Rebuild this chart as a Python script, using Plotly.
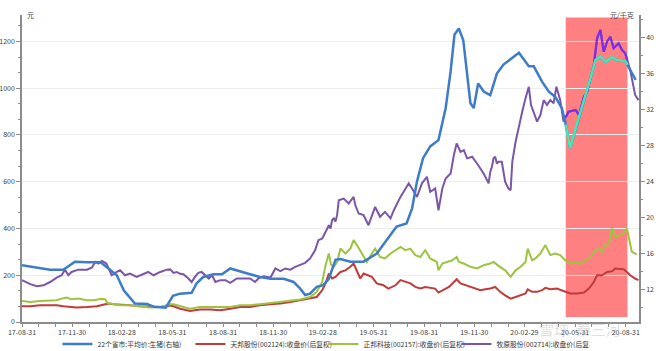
import plotly.graph_objects as go
import pandas as pd
import numpy as np

# ---------------- data ----------------
pig_dates = ["2017-08-31","2017-10-21","2017-11-14","2017-12-05","2017-12-27","2018-01-20","2018-02-04","2018-02-19",
 "2018-03-04","2018-03-24","2018-04-15","2018-04-27","2018-05-19","2018-06-01","2018-06-14","2018-07-05","2018-07-14",
 "2018-07-26","2018-08-14","2018-08-29","2018-09-13","2018-10-01","2018-10-19","2018-11-06","2018-11-25","2018-12-19",
 "2019-01-06","2019-01-18","2019-01-27","2019-02-05","2019-02-17","2019-03-01","2019-03-11","2019-03-23","2019-04-01",
 "2019-04-19","2019-05-13","2019-06-06","2019-06-27","2019-07-12","2019-07-30","2019-08-09","2019-08-18","2019-08-29",
 "2019-09-11","2019-09-26","2019-10-09","2019-10-18","2019-10-25","2019-11-02","2019-11-10","2019-11-17","2019-11-23",
 "2019-11-29","2019-12-07","2019-12-17","2019-12-29","2020-01-10","2020-01-22","2020-02-19","2020-02-28","2020-03-08",
 "2020-03-17","2020-04-01","2020-04-13","2020-04-25","2020-05-07","2020-05-13","2020-05-22","2020-06-01","2020-06-13",
 "2020-06-22","2020-06-28","2020-07-07","2020-07-16","2020-07-25","2020-08-06","2020-08-15","2020-08-30","2020-09-08",
 "2020-09-18"]
pig_values = [14.7,14.2,14.2,15.1,15.05,15.05,14.35,13.6,
 11.9,10.45,10.4,10.1,10.0,11.3,11.55,11.65,12.7,
 13.4,13.7,13.7,14.35,14.0,13.7,13.4,13.2,13.2,
 12.85,12.1,11.4,11.55,12.3,12.5,13.2,15.3,15.4,
 15.1,15.1,16.0,17.7,19.0,19.35,21.0,24.0,26.6,
 27.9,28.6,32.15,36.2,40.3,41.0,39.7,36.2,32.7,
 32.15,34.9,34.0,33.6,36.0,37.0,38.3,37.5,36.8,
 36.8,35.1,34.0,33.4,32.15,30.65,27.7,29.9,32.3,
 34.2,35.5,37.5,37.9,37.3,37.8,37.5,37.4,36.4,
 35.3]

tb_dates = ["2017-08-31","2017-09-15","2017-10-03","2017-10-21","2017-11-02","2017-11-14","2017-11-26","2017-12-08",
 "2017-12-27","2018-01-14","2018-01-29","2018-02-04","2018-02-13","2018-02-25","2018-03-15","2018-04-02","2018-04-20",
 "2018-05-09","2018-05-21","2018-05-27","2018-06-02","2018-06-14","2018-07-02","2018-07-20","2018-08-08","2018-08-26",
 "2018-09-13","2018-10-01","2018-10-19","2018-11-06","2018-11-25","2018-12-13","2018-12-31","2019-01-18","2019-02-05",
 "2019-02-17","2019-02-27","2019-03-05","2019-03-11","2019-03-17","2019-03-23","2019-04-01","2019-04-10","2019-04-19",
 "2019-04-25","2019-05-01","2019-05-07","2019-05-13","2019-05-22","2019-05-28","2019-06-06","2019-06-18","2019-06-27",
 "2019-07-10","2019-07-19","2019-07-28","2019-08-06","2019-08-15","2019-08-24","2019-09-02","2019-09-11","2019-09-20",
 "2019-09-26","2019-10-06","2019-10-15","2019-10-24","2019-10-29","2019-11-05","2019-11-14","2019-11-23","2019-12-02",
 "2019-12-11","2019-12-20","2019-12-29","2020-01-07","2020-01-16","2020-01-25","2020-02-04","2020-02-13","2020-02-22",
 "2020-03-02","2020-03-06","2020-03-14","2020-03-23","2020-04-01","2020-04-07","2020-04-16","2020-04-28","2020-05-07",
 "2020-05-13","2020-05-22","2020-06-04","2020-06-16","2020-06-25","2020-07-04","2020-07-10","2020-07-19","2020-07-28",
 "2020-08-06","2020-08-12","2020-08-21","2020-08-27","2020-09-02","2020-09-08","2020-09-17","2020-09-23"]
tb_values = [67,67,72,72,72,67,64,62,
 64,67,76,79,76,75,72,67,64,
 64,67,70,67,57,47,53,53,50,
 57,64,64,72,76,79,86,93,100,
 107,136,165,207,186,193,214,221,236,
 250,221,186,207,200,193,165,157,143,
 157,179,171,165,150,143,150,146,143,
 126,140,150,171,183,165,157,150,143,
 136,140,143,150,129,114,100,107,114,
 122,140,129,129,136,146,140,143,136,
 129,122,122,126,143,171,200,200,214,
 217,229,229,226,214,200,186,179]

zb_dates = ["2017-08-31","2017-09-15","2017-10-03","2017-10-21","2017-11-02","2017-11-11","2017-11-20","2017-11-29",
 "2017-12-11","2017-12-27","2018-01-08","2018-01-20","2018-01-29","2018-02-02","2018-02-13","2018-02-25","2018-03-15",
 "2018-04-02","2018-04-20","2018-05-09","2018-05-21","2018-05-27","2018-06-02","2018-06-14","2018-07-02","2018-07-20",
 "2018-08-08","2018-08-26","2018-09-13","2018-10-01","2018-10-19","2018-11-06","2018-11-25","2018-12-13","2018-12-31",
 "2019-01-18","2019-02-05","2019-02-17","2019-02-27","2019-03-05","2019-03-11","2019-03-15","2019-03-20","2019-03-26",
 "2019-04-01","2019-04-10","2019-04-19","2019-04-25","2019-05-01","2019-05-10","2019-05-19","2019-05-28","2019-06-03",
 "2019-06-12","2019-06-21","2019-07-01","2019-07-10","2019-07-19","2019-07-28","2019-08-06","2019-08-15","2019-08-24",
 "2019-09-02","2019-09-11","2019-09-23","2019-09-26","2019-10-03","2019-10-12","2019-10-21","2019-10-29","2019-11-02",
 "2019-11-11","2019-11-23","2019-12-05","2019-12-17","2019-12-29","2020-01-04","2020-01-13","2020-01-25","2020-02-04",
 "2020-02-13","2020-02-22","2020-03-02","2020-03-06","2020-03-14","2020-03-20","2020-03-29","2020-04-07","2020-04-16",
 "2020-04-25","2020-05-04","2020-05-13","2020-05-22","2020-06-01","2020-06-10","2020-06-19","2020-06-28","2020-07-07",
 "2020-07-13","2020-07-19","2020-07-25","2020-07-31","2020-08-06","2020-08-12","2020-08-18","2020-08-27","2020-09-02",
 "2020-09-07","2020-09-11","2020-09-20"]
zb_values = [90,86,90,93,93,100,105,97,
 100,93,93,98,97,81,76,72,72,
 67,62,64,72,76,76,69,57,64,
 64,62,64,72,72,76,81,86,93,
 96,107,129,171,243,293,245,236,257,
 314,293,314,350,329,293,257,293,314,
 278,272,293,307,321,307,314,286,278,
 307,272,257,221,250,257,264,278,257,
 250,236,229,243,250,257,240,221,193,
 221,236,257,314,264,272,293,329,286,
 293,286,264,250,257,250,264,278,307,
 314,300,329,329,400,364,371,379,400,
 336,300,289]

my_dates = ["2017-08-31","2017-09-15","2017-09-27","2017-10-09","2017-10-21","2017-11-02","2017-11-11","2017-11-17",
 "2017-11-23","2017-11-29","2017-12-11","2017-12-27","2018-01-05","2018-01-11","2018-01-17","2018-01-23","2018-01-31",
 "2018-02-04","2018-02-10","2018-02-19","2018-02-25","2018-03-06","2018-03-15","2018-03-27","2018-04-08","2018-04-17",
 "2018-04-27","2018-05-09","2018-05-21","2018-05-27","2018-06-02","2018-06-08","2018-06-14","2018-06-20","2018-06-29",
 "2018-07-05","2018-07-11","2018-07-17","2018-07-23","2018-07-29","2018-08-05","2018-08-11","2018-08-17","2018-08-26",
 "2018-09-04","2018-09-13","2018-09-19","2018-09-25","2018-10-04","2018-10-19","2018-10-28","2018-11-03","2018-11-12",
 "2018-11-25","2018-12-04","2018-12-13","2018-12-22","2018-12-31","2019-01-09","2019-01-18","2019-01-27","2019-02-05",
 "2019-02-14","2019-02-20","2019-02-27","2019-03-05","2019-03-11","2019-03-14","2019-03-17","2019-03-20","2019-03-23",
 "2019-03-26","2019-03-29","2019-04-07","2019-04-16","2019-04-25","2019-04-28","2019-05-04","2019-05-13","2019-05-22",
 "2019-05-28","2019-06-03","2019-06-12","2019-06-21","2019-07-01","2019-07-07","2019-07-19","2019-07-28","2019-08-03",
 "2019-08-09","2019-08-18","2019-08-27","2019-09-05","2019-09-11","2019-09-20","2019-09-26","2019-10-03","2019-10-09",
 "2019-10-18","2019-10-24","2019-10-29","2019-11-05","2019-11-11","2019-11-17","2019-11-26","2019-12-05","2019-12-11",
 "2019-12-17","2019-12-26","2019-12-29","2020-01-01","2020-01-04","2020-01-07","2020-01-10","2020-01-13","2020-01-19",
 "2020-01-25","2020-01-31","2020-02-04","2020-02-07","2020-02-13","2020-02-19","2020-02-25","2020-03-02","2020-03-08",
 "2020-03-12","2020-03-17","2020-03-23","2020-03-29","2020-04-04","2020-04-10","2020-04-16","2020-04-22","2020-04-27",
 "2020-05-04","2020-05-10","2020-05-19","2020-06-01","2020-06-07","2020-06-16","2020-06-22","2020-06-28","2020-07-04",
 "2020-07-10","2020-07-16","2020-07-22","2020-07-28","2020-08-03","2020-08-09","2020-08-18","2020-08-24","2020-08-30",
 "2020-09-08","2020-09-17","2020-09-23"]
my_values = [179,162,153,157,171,190,200,224,
 200,214,224,224,233,257,250,261,250,
 229,200,214,221,200,207,193,207,214,
 200,214,224,225,210,214,206,204,186,
 171,193,210,214,200,186,200,171,179,
 179,167,176,186,186,186,171,186,196,
 190,229,218,229,224,236,243,253,272,
 307,350,357,385,414,400,436,443,430,
 457,521,528,507,535,500,464,457,414,
 457,492,450,471,443,478,535,571,593,
 571,535,593,621,557,571,478,571,614,
 635,714,764,728,735,700,707,678,657,
 635,593,642,664,700,707,678,685,685,
 600,571,564,685,771,842,899,957,1006,
 928,899,857,885,949,928,949,935,1006,
 949,857,899,907,885,964,985,1042,1099,
 1214,1249,1156,1199,1220,1171,1192,1164,1149,
 1078,971,949]

series_names = ["22个省市:平均价:生猪(右轴)", "天邦股份(002124):收盘价(后复权)",
                "正邦科技(002157):收盘价(后复权)", "牧原股份(002714):收盘价(后复权)"]

quarter_ticks = ["2017-08-31","2017-11-30","2018-02-28","2018-05-31","2018-08-31","2018-11-30",
                 "2019-02-28","2019-05-31","2019-08-31","2019-11-30","2020-02-29","2020-05-31","2020-08-31"]
quarter_labels = ["17-08-31","17-11-30","18-02-28","18-05-31","18-08-31","18-11-30",
                  "19-02-28","19-05-31","19-08-31","19-11-30","20-02-29","20-05-31","20-08-31"]

highlight_start, highlight_end = "2020-05-14", "2020-09-03"

# ---------------- styles ----------------
C_BLUE, C_RED, C_GREEN, C_PURPLE = "#3D7CC9", "#C23B3B", "#9CC43E", "#7B56A8"
C_TURQ, C_VIOLET = "#3FEAB4", "#7A2EEB"
AXIS_C = "#8C8C8C"
FONT = "Noto Sans CJK SC, Noto Sans, sans-serif"

def clip(dates, vals, a, b):
    t = pd.to_datetime(pd.Series(dates)).values.astype("int64")
    ta, tb = pd.Timestamp(a).value, pd.Timestamp(b).value
    va, vb = np.interp([ta, tb], t, vals)
    mask = (t > ta) & (t < tb)
    xs = [a] + list(np.array(dates)[mask]) + [b]
    ys = [va] + list(np.array(vals)[mask]) + [vb]
    return xs, ys

fig = go.Figure()
fig.add_trace(go.Scatter(x=pig_dates, y=pig_values, name=series_names[0], yaxis="y2",
                         mode="lines", line=dict(color=C_BLUE, width=2.5)))
fig.add_trace(go.Scatter(x=tb_dates, y=tb_values, name=series_names[1],
                         mode="lines", line=dict(color=C_RED, width=2)))
fig.add_trace(go.Scatter(x=zb_dates, y=zb_values, name=series_names[2],
                         mode="lines", line=dict(color=C_GREEN, width=2)))
fig.add_trace(go.Scatter(x=my_dates, y=my_values, name=series_names[3],
                         mode="lines", line=dict(color=C_PURPLE, width=2)))

hx, hy = clip(pig_dates, pig_values, highlight_start, highlight_end)
fig.add_trace(go.Scatter(x=hx, y=hy, yaxis="y2", mode="lines", showlegend=False,
                         line=dict(color=C_TURQ, width=2.5)))
hx, hy = clip(my_dates, my_values, highlight_start, highlight_end)
fig.add_trace(go.Scatter(x=hx, y=hy, mode="lines", showlegend=False,
                         line=dict(color=C_VIOLET, width=2.2)))

fig.add_shape(type="rect", xref="x", yref="y", x0=highlight_start, x1=highlight_end,
              y0=21, y1=1302, fillcolor="#FF8080", line=dict(width=0), layer="below")

# monthly ticks, labelled each quarter
month_ends = pd.date_range("2017-08-31", "2020-09-30", freq="ME")
tickvals, ticktext = [], []
for d in month_ends:
    s = d.strftime("%Y-%m-%d")
    tickvals.append(s)
    ticktext.append(quarter_labels[quarter_ticks.index(s)] if s in quarter_ticks else "")

fig.update_layout(
    width=660, height=351,
    margin=dict(l=22, r=21, t=15, b=29, autoexpand=False),
    paper_bgcolor="white", plot_bgcolor="white",
    font=dict(family=FONT, size=7, color="#404040"),
    showlegend=True,
    legend=dict(orientation="h", xref="container", yref="container",
                x=0.087, xanchor="left", y=0.02, yanchor="middle",
                entrywidth=88, entrywidthmode="pixels",
                font=dict(size=6.8, color="#333333"), itemwidth=30,
                bgcolor="rgba(0,0,0,0)", tracegroupgap=0),
    xaxis=dict(type="date", range=["2017-08-31", "2020-09-24"], tickvals=tickvals, ticktext=ticktext,
               showgrid=False, showline=True, linecolor=AXIS_C, linewidth=1.5,
               ticks="outside", ticklen=3, tickcolor=AXIS_C, tickwidth=1,
               tickfont=dict(size=7, color="#404040"), zeroline=False),
    yaxis=dict(range=[0, 1313], tickvals=[0, 200, 400, 600, 800, 1000, 1200],
               showgrid=True, gridcolor="#EDEDED", gridwidth=1,
               showline=True, linecolor=AXIS_C, linewidth=1.5,
               ticks="outside", ticklen=4, tickcolor=AXIS_C, tickwidth=1,
               minor=dict(dtick=200/3, tick0=0, ticks="outside", ticklen=2, tickcolor=AXIS_C, showgrid=False),
               tickfont=dict(size=7, color="#404040"), zeroline=False),
    yaxis2=dict(overlaying="y", side="right", range=[8.4, 42.5], tickvals=[12, 16, 20, 24, 28, 32, 36, 40],
                showgrid=False, showline=True, linecolor=AXIS_C, linewidth=1.5,
                ticks="outside", ticklen=4, tickcolor=AXIS_C, tickwidth=1,
                minor=dict(dtick=2, tick0=0, ticks="outside", ticklen=2, tickcolor=AXIS_C, showgrid=False),
                tickfont=dict(size=7, color="#404040"), zeroline=False),
    annotations=[
        dict(text="元", xref="paper", yref="paper", x=0.005, y=1.0, xanchor="left", yanchor="middle",
             showarrow=False, font=dict(size=7, color="#404040")),
        dict(text="元/千克", xref="paper", yref="paper", x=0.995, y=1.0, xanchor="right", yanchor="middle",
             showarrow=False, font=dict(size=7, color="#404040")),
        dict(text="雪球  秦三河", xref="paper", yref="paper", x=0.905, y=-0.02, xanchor="center", yanchor="middle",
             showarrow=False, font=dict(size=15, color="rgba(170,170,170,0.4)")),
    ],
)

fig.write_html("out.html")
